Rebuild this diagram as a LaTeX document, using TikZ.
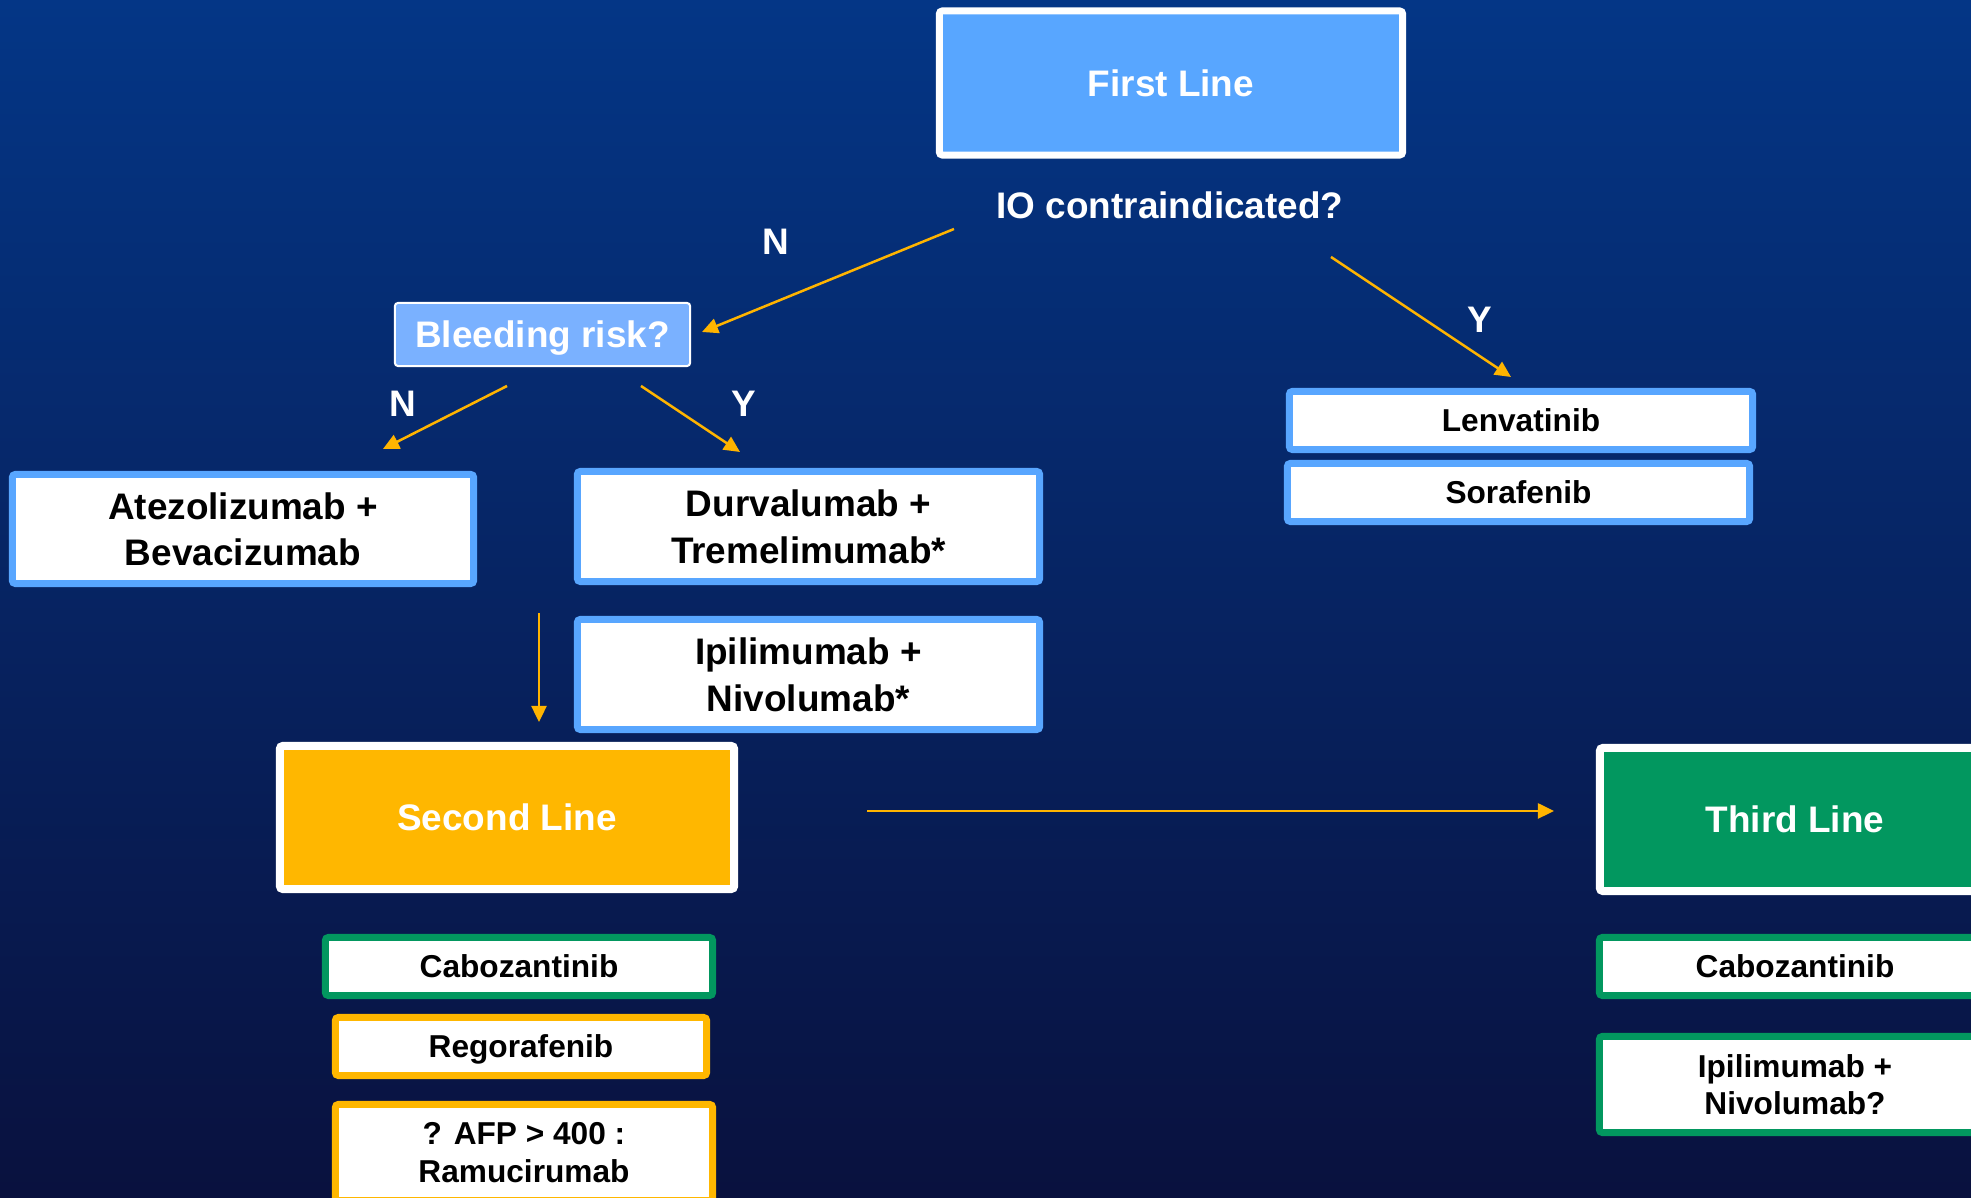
\documentclass[tikz,border=0pt]{standalone}
\usepackage{fontspec}
\setmainfont{Liberation Sans}
\usetikzlibrary{arrows.meta}

\definecolor{bgtop}{RGB}{4,54,134}
\definecolor{bgbot}{RGB}{9,17,62}
\definecolor{lineblue}{RGB}{88,166,255}
\definecolor{riskblue}{RGB}{122,177,255}
\definecolor{lineorange}{RGB}{255,183,0}
\definecolor{linegreen}{RGB}{2,151,95}
\definecolor{arrowgold}{RGB}{255,180,0}

\begin{document}
\begin{tikzpicture}[x=0.01cm, y=-0.01cm,
        box/.style={rectangle, rounded corners=0.03cm, inner sep=0pt, outer sep=0pt, align=center,
            text depth=0pt, font=\bfseries\fontsize{10.5}{13.2}\selectfont},
        drug/.style={box, draw=#1, fill=white, line width=0.07cm, text=black},
        smalltxt/.style={font=\bfseries\fontsize{9}{10.6}\selectfont},
        linebox/.style={box, draw=white, line width=0.08cm, text=white, minimum height=1.43cm},
        lbl/.style={text=white, font=\bfseries\fontsize{10.5}{12}\selectfont, anchor=base, inner sep=0pt},
        arr/.style={draw=arrowgold, line width=0.025cm, -{Triangle[length=0.16cm, width=0.15cm]}},
    ]
        \useasboundingbox (0,0) rectangle (1971,1198);
        \clip (0,0) rectangle (1971,1198);
        \shade[top color=bgtop, bottom color=bgbot] (0,0) rectangle (1971,1198);

        % first line
        \node[linebox, fill=lineblue, line width=0.07cm, minimum width=4.63cm, minimum height=1.44cm]
            (first) at (1171,83) {First Line};
        \node[lbl] (io) at (1170,219) {IO contraindicated?};
        \node[box, draw=white, fill=riskblue, line width=0.02cm, text=white,
            minimum width=2.95cm, minimum height=0.63cm] (risk) at (542.5,334.5) {Bleeding risk?};

        \node[drug=lineblue, smalltxt, minimum width=4.63cm, minimum height=0.58cm]
            (lenva) at (1521,420.5) {Lenvatinib};
        \node[drug=lineblue, smalltxt, minimum width=4.62cm, minimum height=0.58cm]
            (sora) at (1518.5,492.5) {Sorafenib};

        \node[drug=lineblue, minimum width=4.61cm, minimum height=1.09cm]
            (atezo) at (243,529) {Atezolizumab +\\Bevacizumab};
        \node[drug=lineblue, minimum width=4.62cm, minimum height=1.10cm]
            (durva) at (808.5,526.5) {Durvalumab +\\Tremelimumab*};
        \node[drug=lineblue, minimum width=4.62cm, minimum height=1.10cm]
            (ipinivo) at (808.5,674.5) {Ipilimumab +\\Nivolumab*};

        % second line
        \node[linebox, fill=lineorange, minimum width=4.54cm] (second) at (507,817.5) {Second Line};
        \node[drug=linegreen, smalltxt, minimum width=3.87cm, minimum height=0.58cm]
            (cabo) at (519,966.5) {Cabozantinib};
        \node[drug=lineorange, smalltxt, minimum width=3.71cm, minimum height=0.58cm]
            (rego) at (521,1046.5) {Regorafenib};
        \node[drug=lineorange, smalltxt, minimum width=3.77cm, minimum height=0.96cm]
            (ramu) at (524,1152.5) {? AFP > 400 :\\Ramucirumab};

        % third line
        \node[linebox, fill=linegreen, minimum width=3.90cm] (third) at (1795,819.5) {Third Line};
        \node[drug=linegreen, smalltxt, minimum width=3.91cm, minimum height=0.58cm]
            (cabothird) at (1795,966.5) {Cabozantinib};
        \node[drug=linegreen, smalltxt, minimum width=3.91cm, minimum height=0.96cm]
            (ipithird) at (1795,1084.5) {Ipilimumab +\\Nivolumab?};

        % answers
        \node[lbl] (ionot) at (776,255) {N};
        \node[lbl] (ioyes) at (1480,333) {Y};
        \node[lbl] (risknot) at (403,417) {N};
        \node[lbl] (riskyes) at (744,417) {Y};

        \coordinate (ioleft) at (954,229);
        \coordinate (ioright) at (1331,257);
        \coordinate (riskleft) at (507,386);
        \coordinate (riskright) at (641,386);
        \coordinate (downtop) at (539,613);
        \coordinate (downend) at (539,722);
        \coordinate (acrossstart) at (867,811);
        \coordinate (acrossend) at (1554,811);
        \coordinate (riskin) at (702,332);
        \coordinate (lenvain) at (1511,377);
        \coordinate (atezoin) at (383,449);
        \coordinate (durvain) at (740,452);

        \draw[arr] (ioleft) -- (riskin);
        \draw[arr] (ioright) -- (lenvain);
        \draw[arr] (riskleft) -- (atezoin);
        \draw[arr] (riskright) -- (durvain);
        \draw[arr] (downtop) -- (downend);
        \draw[arr] (acrossstart) -- (acrossend);

    \end{tikzpicture}
\end{document}
